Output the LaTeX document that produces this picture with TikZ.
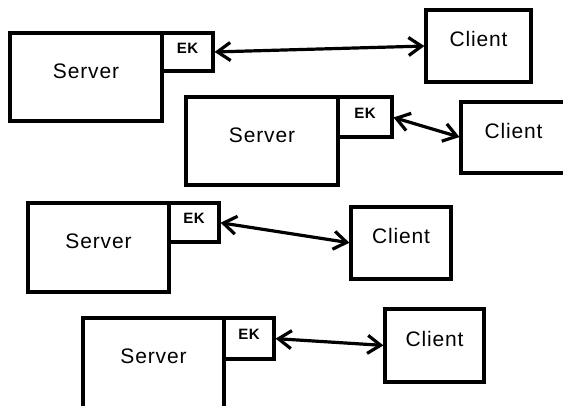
\documentclass[tikz,border=0pt]{standalone}
\usepackage{fontspec}
\setmainfont{Liberation Sans}[LetterSpace=4]
\usetikzlibrary{arrows.meta}
\begin{document}
\begin{tikzpicture}[x=1pt,y=-1pt,
  box/.style={draw=black, line width=3.2pt, inner sep=0pt, outer sep=0pt, anchor=north west, font=\fontsize{21}{26}\selectfont},
  srvbox/.style={box, text depth=12pt},
  clibox/.style={box, text depth=14pt},
  ekbox/.style={box, font=\bfseries\fontsize{15}{18}\selectfont, text depth=8pt},
  link/.style={line width=3.2pt, shorten <=1.6pt, shorten >=1.6pt, {Straight Barb[length=13pt,width=18pt]}-{Straight Barb[length=13pt,width=18pt]}}]
\useasboundingbox (0,0) rectangle (563,405);
\clip (0,0) rectangle (563,405);
\node [srvbox, minimum width=152pt, minimum height=88pt] (srvA) at (10,33) {Server};
\node [ekbox, minimum width=51pt, minimum height=38pt] (ekA) at (srvA.north east) {EK};
\node [clibox, minimum width=105pt, minimum height=72pt] (cliA) at (426,10) {Client};
\draw [link] (ekA.east) -- (cliA.west);
\node [srvbox, minimum width=152pt, minimum height=88pt] (srvB) at (186,97) {Server};
\node [ekbox, minimum width=54pt, minimum height=40pt] (ekB) at (srvB.north east) {EK};
\node [clibox, minimum width=105pt, minimum height=71pt] (cliB) at (461,102) {Client};
\draw [link] (ekB.east) -- (cliB.west);
\node [srvbox, minimum width=141pt, minimum height=89pt] (srvC) at (28,203) {Server};
\node [ekbox, minimum width=50pt, minimum height=39pt] (ekC) at (srvC.north east) {EK};
\node [clibox, minimum width=100pt, minimum height=72pt] (cliC) at (351,207) {Client};
\draw [link] (ekC.east) -- (cliC.west);
\node [srvbox, minimum width=141pt, minimum height=100pt, text depth=23pt] (srvD) at (83,318) {Server};
\node [ekbox, minimum width=50pt, minimum height=41pt] (ekD) at (srvD.north east) {EK};
\node [clibox, minimum width=99pt, minimum height=73pt] (cliD) at (385,309) {Client};
\draw [link] (ekD.east) -- (cliD.west);
\end{tikzpicture}
\end{document}
